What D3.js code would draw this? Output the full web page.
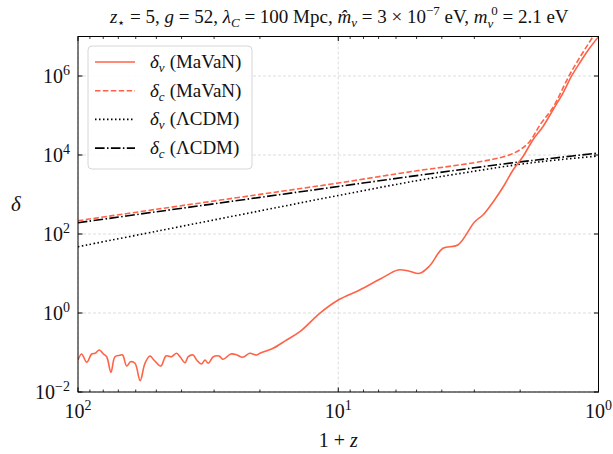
<!DOCTYPE html>
<html>
<head>
<meta charset="utf-8">
<script src="https://cdn.jsdelivr.net/npm/d3@7"></script>
<style>
  html, body { margin: 0; padding: 0; background: #fff; }
  svg { display: block; }
  text { font-family: "Liberation Serif", "DejaVu Serif", serif; fill: #111; }
</style>
</head>
<body>
<svg id="chart" width="613" height="454"></svg>
<script>
// ---- data: 1+z samples and density contrasts ----
// Lambda-CDM reference growth (neutrinos and cold dark matter)
const zLCDM = [100, 50, 20, 10, 5, 3, 2, 1.5, 1];
const deltaNuLCDM = [47.7, 117, 385, 944, 2235, 3890, 5820, 7300, 9440];
const deltaCLCDM = [193, 365, 845, 1595, 3010, 4740, 6690, 8300, 11240];

// MaVaN cold dark matter contrast
const zCMaVaN = [100, 50, 20, 10, 5, 3, 2.26, 2.01, 1.84, 1.67, 1.50, 1.28, 1.05, 1.0];
const deltaCMaVaN = [217, 422, 1006, 1955, 3980, 6400, 9440, 13400, 21700, 61000, 155000, 1.19e6, 9.9e6, 1.55e7];

// MaVaN neutrino contrast
const zNuMaVaN = [100, 96.8, 92.6, 88.6, 86.0, 82.8, 79.9, 77.6, 74.7, 72.1, 69.0, 67.4, 65.0, 62.8,
  60.4, 57.7, 55.3, 52.9, 51.1, 48.1, 45.9, 43.7, 41.8, 40.4, 38.8, 37.7, 36.1, 35.0, 33.5, 32.5,
  31.6, 30.2, 28.7, 27.7, 25.9, 24.6, 23.3, 21.9, 20.6, 20.0, 17.8, 15.8, 14.05, 11.78, 10.0,
  8.27, 6.93, 5.89, 5.36, 4.87, 4.46, 3.96, 3.47, 2.99, 2.78, 2.51, 2.30, 2.13, 1.953, 1.787,
  1.636, 1.497, 1.371, 1.273, 1.183, 1.083, 1.0];
const deltaNuMaVaN = [0.0646, 0.0916, 0.0565, 0.0916, 0.0955, 0.1156, 0.0916, 0.0783, 0.0316, 0.0783,
  0.0849, 0.0865, 0.0455, 0.0585, 0.0533, 0.0193, 0.0533, 0.0815, 0.0646, 0.0455, 0.0815, 0.0783,
  0.0955, 0.0755, 0.0552, 0.0783, 0.0865, 0.0646, 0.0512, 0.0646, 0.0533, 0.0783, 0.0815, 0.0673,
  0.0916, 0.0879, 0.0755, 0.0955, 0.0865, 0.0955, 0.1277, 0.207, 0.336, 0.983, 2.13, 3.82, 7.13,
  12.3, 11.6, 10.1, 15.5, 43.5, 52.7, 205, 303, 726, 1740, 4170, 9060, 24000, 52000, 138000,
  365000, 959000, 2.10e6, 5.02e6, 9.9e6];

// axis ticks
const xMajor = [100, 10, 1];
const xMinor = [90, 80, 70, 60, 50, 40, 30, 20, 9, 8, 7, 6, 5, 4, 3, 2];
const yMajor = [1e-2, 1e0, 1e2, 1e4, 1e6];
const xTickExp = ["2", "1", "0"];
const yTickExp = ["\u22122", "0", "2", "4", "6"];

const legendItems = [
  { sym: "\u03B4", sub: "\u03BD", tail: "(MaVaN)", color: "#ff6347", dash: null, w: 1.6 },
  { sym: "\u03B4", sub: "c", tail: "(MaVaN)", color: "#ff6347", dash: "5.5,2.4", w: 1.6 },
  { sym: "\u03B4", sub: "\u03BD", tail: "(\u039BCDM)", color: "#000", dash: "1.5,2.5", w: 1.6 },
  { sym: "\u03B4", sub: "c", tail: "(\u039BCDM)", color: "#000", dash: "9.6,2.4,1.5,2.4", w: 1.6 }
];

// ---- layout ----
const svg = d3.select("#chart");
const L = 78, R = 598.5, T = 36.5, B = 392;

const x = d3.scaleLog().domain([100, 1]).range([L, R]);
const y = d3.scaleLog().domain([1e-2, 1e7]).range([B, T]);

svg.append("defs").append("clipPath").attr("id", "plotclip")
  .append("rect").attr("x", L).attr("y", T).attr("width", R - L).attr("height", B - T);

// grid
const grid = svg.append("g").attr("stroke", "#d4d4d4").attr("stroke-width", 0.8)
  .attr("stroke-dasharray", "3,2");
xMajor.forEach(v => grid.append("line").attr("x1", x(v)).attr("x2", x(v)).attr("y1", T).attr("y2", B));
yMajor.forEach(v => grid.append("line").attr("x1", L).attr("x2", R).attr("y1", y(v)).attr("y2", y(v)));

// curves
const line = d3.line().curve(d3.curveCatmullRom.alpha(0.5));
const plot = svg.append("g").attr("clip-path", "url(#plotclip)").attr("fill", "none");

function series(zs, ds, color, dash, w) {
  const pts = zs.map((z, i) => [x(z), y(ds[i])]);
  const p = plot.append("path").attr("d", line(pts)).attr("stroke", color)
    .attr("stroke-width", w).attr("stroke-linejoin", "round");
  if (dash) p.attr("stroke-dasharray", dash);
}
series(zLCDM, deltaNuLCDM, "#000", "1.5,2.5", 1.6);
series(zLCDM, deltaCLCDM, "#000", "9.6,2.4,1.5,2.4", 1.6);
series(zNuMaVaN, deltaNuMaVaN, "#ff6347", null, 1.6);
series(zCMaVaN, deltaCMaVaN, "#ff6347", "5.5,2.4", 1.6);

// frame and ticks (inward, on all four sides)
const ax = svg.append("g").attr("stroke", "#000");
ax.append("rect").attr("x", L).attr("y", T).attr("width", R - L).attr("height", B - T)
  .attr("fill", "none").attr("stroke-width", 1);
xMajor.forEach(v => {
  ax.append("line").attr("x1", x(v)).attr("x2", x(v)).attr("y1", B).attr("y2", B - 4.5);
  ax.append("line").attr("x1", x(v)).attr("x2", x(v)).attr("y1", T).attr("y2", T + 4.5);
});
xMinor.forEach(v => {
  ax.append("line").attr("x1", x(v)).attr("x2", x(v)).attr("y1", B).attr("y2", B - 2.5).attr("stroke-width", 0.8);
  ax.append("line").attr("x1", x(v)).attr("x2", x(v)).attr("y1", T).attr("y2", T + 2.5).attr("stroke-width", 0.8);
});
yMajor.forEach(v => {
  ax.append("line").attr("x1", L).attr("x2", L + 4.5).attr("y1", y(v)).attr("y2", y(v));
  ax.append("line").attr("x1", R).attr("x2", R - 4.5).attr("y1", y(v)).attr("y2", y(v));
});

// power-of-ten label
function pow10(g, px, py, exp, anchor) {
  const t = g.append("text").attr("x", px).attr("y", py).attr("text-anchor", anchor)
    .style("font-size", "20px");
  t.append("tspan").text("10");
  t.append("tspan").attr("dy", -8).style("font-size", "14px").text(exp);
}
const labels = svg.append("g");
xMajor.forEach((v, i) => pow10(labels, x(v), 418, xTickExp[i], "middle"));
yMajor.forEach((v, i) => pow10(labels, 70, y(v) + 7, yTickExp[i], "end"));

// axis titles
const xl = svg.append("text").attr("x", (L + R) / 2).attr("y", 447).attr("text-anchor", "middle")
  .style("font-size", "20px");
xl.append("tspan").text("1 + ");
xl.append("tspan").style("font-style", "italic").text("z");
svg.append("text").attr("x", 16).attr("y", 211).attr("text-anchor", "middle")
  .style("font-size", "21px").style("font-style", "italic").text("\u03B4");

// title
const title = svg.append("text").attr("x", (L + R) / 2 + 1).attr("y", 23).attr("text-anchor", "middle")
  .style("font-size", "19px");
function seg(t, txt, opt = {}) {
  const s = t.append("tspan").text(txt);
  if (opt.i) s.style("font-style", "italic");
  if (opt.size) s.style("font-size", opt.size);
  if (opt.dy) s.attr("dy", opt.dy);
  if (opt.dx) s.attr("dx", opt.dx);
  return s;
}
seg(title, "z", { i: 1 });
seg(title, "\u22C6", { size: "13px", dy: 4 });
seg(title, " = 5, ", { dy: -4 });
seg(title, "g", { i: 1 });
seg(title, " = 52, ");
seg(title, "\u03BB", { i: 1 });
seg(title, "C", { i: 1, size: "13px", dy: 4 });
seg(title, " = 100 Mpc, ", { dy: -4 });
seg(title, "m\u0302", { i: 1 });
seg(title, "\u03BD", { i: 1, size: "13px", dy: 4 });
seg(title, " = 3 \u00D7 10", { dy: -4 });
seg(title, "\u22127", { size: "13px", dy: -8 });
seg(title, " eV, ", { dy: 8 });
seg(title, "m", { i: 1 });
seg(title, "\u03BD", { i: 1, size: "13px", dy: 5 });
seg(title, "0", { size: "13px", dy: -13, dx: -2 });
seg(title, " = 2.1 eV", { dy: 8 });

// legend
const lg = svg.append("g");
lg.append("rect").attr("x", 88).attr("y", 46).attr("width", 164).attr("height", 123)
  .attr("rx", 4).attr("fill", "#fff").attr("fill-opacity", 0.85)
  .attr("stroke", "#d6d6d6").attr("stroke-width", 1);
legendItems.forEach((d, i) => {
  const cy = 62 + i * 28.7;
  const l = lg.append("line").attr("x1", 95).attr("x2", 135).attr("y1", cy).attr("y2", cy)
    .attr("stroke", d.color).attr("stroke-width", d.w);
  if (d.dash) l.attr("stroke-dasharray", d.dash);
  const t = lg.append("text").attr("x", 150).attr("y", cy + 6).style("font-size", "19px");
  t.append("tspan").style("font-style", "italic").text(d.sym);
  t.append("tspan").style("font-style", "italic").style("font-size", "13px").attr("dy", 4).text(d.sub);
  t.append("tspan").attr("dy", -4).attr("dx", 5).text(d.tail);
});
</script>
</body>
</html>
